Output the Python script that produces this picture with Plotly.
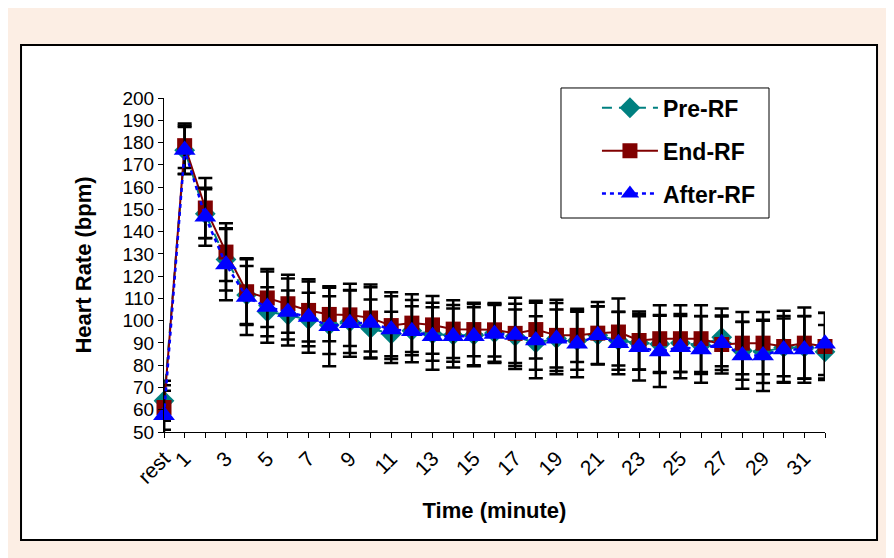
import plotly.graph_objects as go

categories = ["rest", "1", "2", "3", "4", "5", "6", "7", "8", "9", "10",
              "11", "12", "13", "14", "15", "16", "17", "18", "19", "20",
              "21", "22", "23", "24", "25", "26", "27", "28", "29", "30",
              "31", "32"]
tick_labels = ["rest", "1", "", "3", "", "5", "", "7", "", "9", "",
               "11", "", "13", "", "15", "", "17", "", "19", "",
               "21", "", "23", "", "25", "", "27", "", "29", "",
               "31", ""]

pre_rf = [64, 176.5, 148, 127.5, 111.5, 104, 102.5, 100.5, 98, 99.5, 96.5,
          94, 95.5, 94, 93.5, 93.5, 94.5, 93, 90, 92, 91,
          93.5, 91, 90, 89.5, 90, 89, 92.5, 86.5, 86, 88,
          88, 86]
pre_err = [9, 10.5, 11, 14, 13, 11, 11, 12, 13, 14, 13,
           10, 11, 12, 12, 14, 13, 12, 12, 13, 13,
           13, 13, 12, 13, 13, 13, 13, 13, 14, 13,
           14, 12]

end_rf = [61, 178.6, 150.6, 130.8, 113, 110.2, 107.6, 104.6, 102.8, 102.6, 101.2,
          97.8, 98.9, 98.1, 96.2, 96, 95.9, 94.3, 96, 93.4, 93.4,
          94.4, 94.9, 91.1, 91.9, 91.9, 91.9, 89.3, 89.9, 89.9, 88.4,
          89.9, 88.4]
end_err = [10, 10, 13.5, 13, 15, 13, 13, 14, 12, 14, 15,
           15, 13, 13, 13, 12, 12, 16, 13, 16, 12,
           14, 15, 13, 15, 15, 15, 13, 14, 14, 16,
           16, 15]

after_rf = [57.5, 176.7, 146.7, 125.2, 110.6, 106.1, 103.9, 101.6, 97.5, 98.8, 99,
            96, 95.3, 93, 93, 93, 94, 93.6, 91.1, 91.9, 89.6,
            93.4, 89.9, 88.1, 86.2, 88.1, 87.1, 89.9, 84.4, 84.4, 87.1,
            87.1, 89.6]
after_err = [11, 11, 13, 16, 17, 16, 15, 16, 18, 15, 16,
             15, 14, 15, 14, 13, 13, 14, 17, 16, 15,
             13, 14, 15, 16, 14, 15, 12, 15, 16, 15,
             15, 14]

FONT = "Liberation Sans, Arial, sans-serif"

def err(vals):
    return dict(type="data", array=vals, visible=True, color="black",
                thickness=2.5, width=7)

fig = go.Figure()
fig.add_trace(go.Scatter(
    x=categories, y=pre_rf, name="Pre-RF", mode="lines+markers",
    legendgroup="a",
    line=dict(color="#008080", width=2, dash="10px,7px"),
    marker=dict(symbol="diamond", size=16, color="#008080"),
    error_y=err(pre_err), cliponaxis=False))
fig.add_trace(go.Scatter(
    x=categories, y=end_rf, name="End-RF", mode="lines+markers",
    legendgroup="b",
    line=dict(color="#800000", width=2),
    marker=dict(symbol="square", size=15, color="#800000"),
    error_y=err(end_err), cliponaxis=False))
fig.add_trace(go.Scatter(
    x=categories, y=after_rf, name="After-RF", mode="lines+markers",
    legendgroup="c",
    line=dict(color="#0000FF", width=2.5, dash="4px,4px"),
    marker=dict(symbol="triangle-up", size=19, color="#0000FF"),
    error_y=err(after_err), cliponaxis=False))

fig.update_layout(
    width=886, height=550,
    margin=dict(l=156, r=69, t=90, b=126),
    paper_bgcolor="#FCEEE4",
    plot_bgcolor="white",
    font=dict(family=FONT, color="black"),
    showlegend=True,
    legend=dict(
        x=0.655, y=1.035, xanchor="left", yanchor="top",
        bgcolor="rgba(0,0,0,0)", borderwidth=0,
        font=dict(size=23, family=FONT, color="black", weight="bold"),
        itemwidth=56, tracegroupgap=10,
    ),
    shapes=[
        dict(type="rect", xref="paper", yref="paper",
             x0=-0.2163, x1=1.0787, y0=-0.3234, y1=1.1587,
             fillcolor="white", line=dict(color="black", width=2),
             layer="below"),
        dict(type="rect", xref="paper", yref="paper",
             x0=0.6006, x1=0.9153, y0=0.6407, y1=1.03,
             fillcolor="white", line=dict(color="black", width=1),
             layer="below"),
    ],
)

fig.update_xaxes(
    type="category", range=[0, 32],
    tickmode="array", tickvals=categories, ticktext=tick_labels,
    tickangle=-45, ticks="outside", ticklen=5, tickcolor="black",
    showline=True, linecolor="black", linewidth=1,
    showgrid=False, zeroline=False,
    tickfont=dict(size=21, family=FONT, color="black"),
    title=dict(text="Time (minute)", standoff=15,
               font=dict(size=22, family=FONT, color="black", weight="bold")),
)
fig.update_yaxes(
    range=[50, 200], dtick=10, tick0=50,
    ticks="outside", ticklen=5, tickcolor="black",
    showline=True, linecolor="black", linewidth=1,
    showgrid=False, zeroline=False,
    tickfont=dict(size=19, family=FONT, color="black"),
    title=dict(text="Heart Rate (bpm)", standoff=24,
               font=dict(size=22, family=FONT, color="black", weight="bold")),
)

fig.write_html("out.html")
